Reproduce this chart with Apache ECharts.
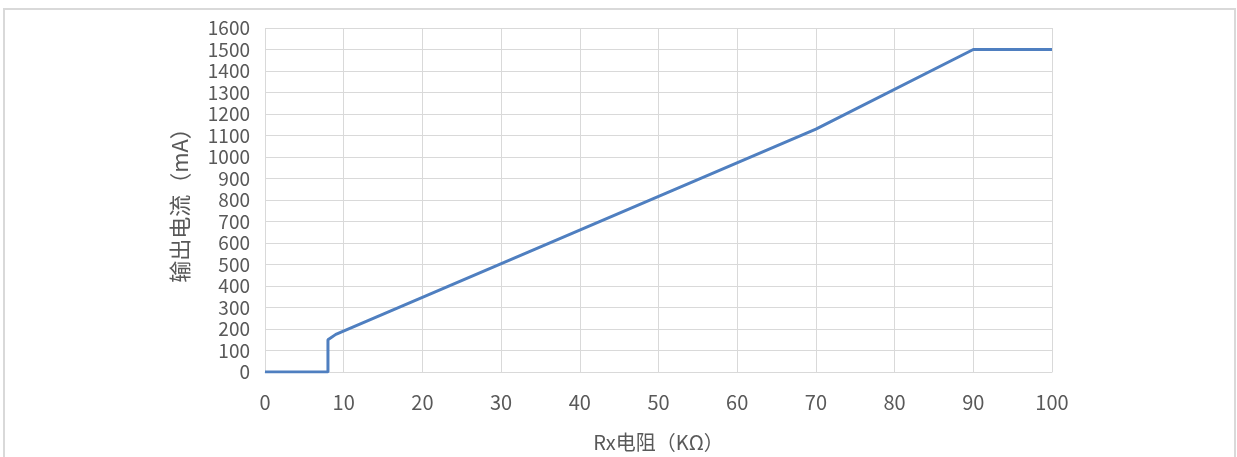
<!DOCTYPE html>
<html>
<head>
<meta charset="utf-8">
<script src="https://cdn.jsdelivr.net/npm/echarts@6/dist/echarts.min.js"></script>
<style>
html,body{margin:0;padding:0;background:#fff;}
#chart{width:1237px;height:457px;}
</style>
</head>
<body>
<div id="chart"></div>
<script>
// Rx resistance (KΩ) and output current (mA)
const rxValues = [0, 8, 8, 9, 70, 90, 100];
const currentValues = [0, 0, 150, 175, 1130, 1500, 1500];
const xAxisName = 'Rx电阻（KΩ）';
const yAxisName = '输出电流（mA）';

const seriesData = rxValues.map((x, i) => [x, currentValues[i]]);
const textColor = '#595959';
const fontFam = '"Noto Sans CJK SC", "Open Sans", sans-serif';

const chart = echarts.init(document.getElementById('chart'), null, {renderer: 'canvas'});
chart.setOption({
  animation: false,
  backgroundColor: '#fff',
  graphic: [{
    type: 'rect',
    shape: {x: 4, y: 9, width: 1231, height: 470},
    style: {fill: 'none', stroke: '#d9d9d9', lineWidth: 2},
    silent: true
  }],
  grid: {left: 265, right: 185, top: 28, bottom: 82, containLabel: false},
  xAxis: {
    type: 'value',
    min: 0, max: 100, interval: 10,
    name: xAxisName,
    nameLocation: 'middle',
    nameGap: 60,
    nameTextStyle: {color: textColor, fontSize: 20, fontFamily: fontFam},
    axisLine: {show: true, lineStyle: {color: '#d9d9d9', width: 1}},
    axisTick: {show: false},
    axisLabel: {color: textColor, fontSize: 20, fontFamily: fontFam, margin: 20,
      formatter: v => String(v)},
    splitLine: {show: true, lineStyle: {color: '#d9d9d9', width: 1}}
  },
  yAxis: {
    type: 'value',
    min: 0, max: 1600, interval: 100,
    name: yAxisName,
    nameLocation: 'middle',
    nameGap: 74,
    nameRotate: 90,
    nameTextStyle: {color: textColor, fontSize: 22, fontFamily: fontFam},
    axisLine: {show: false},
    axisTick: {show: false},
    axisLabel: {color: textColor, fontSize: 19, fontFamily: fontFam, margin: 15, lineHeight: 19,
      formatter: v => String(v)},
    splitLine: {show: true, lineStyle: {color: '#d9d9d9', width: 1}}
  },
  series: [{
    type: 'line',
    data: seriesData,
    showSymbol: false,
    lineStyle: {color: '#4f7fc0', width: 3},
    itemStyle: {color: '#4f7fc0'}
  }]
});
</script>
</body>
</html>
